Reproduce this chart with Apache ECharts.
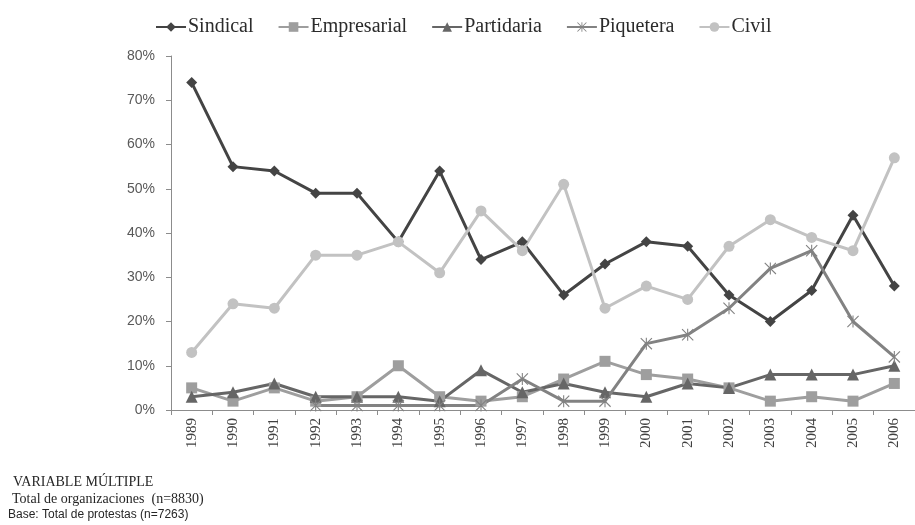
<!DOCTYPE html>
<html>
<head>
<meta charset="utf-8">
<style>
html,body{margin:0;padding:0;background:#fff;}
#chart{width:915px;height:525px;}
</style>
<script src="https://cdn.jsdelivr.net/npm/echarts@6/dist/echarts.min.js"></script>
</head>
<body>
<div id="chart"></div>
<script>
var years = ['1989','1990','1991','1992','1993','1994','1995','1996','1997','1998','1999','2000','2001','2002','2003','2004','2005','2006'];
var sindical    = [74,55,54,49,49,38,54,34,38,26,33,38,37,26,20,27,44,28];
var empresarial = [5,2,5,2,3,10,3,2,3,7,11,8,7,5,2,3,2,6];
var partidaria  = [3,4,6,3,3,3,2,9,4,6,4,3,6,5,8,8,8,10];
var piquetera   = [null,null,null,1,1,1,1,1,7,2,2,15,17,23,32,36,20,12];
var civil       = [13,24,23,35,35,38,31,45,36,51,23,28,25,37,43,39,36,57];
var yTicks = [0,10,20,30,40,50,60,70,80];
var notes = ['VARIABLE MÚLTIPLE','Total de organizaciones  (n=8830)','Base: Total de protestas (n=7263)'];

var asterisk = 'path://M9.1,0 L10.9,0 L10.9,20 L9.1,20 Z M0,1.3 L1.3,0 L20,18.7 L18.7,20 Z M18.7,0 L20,1.3 L1.3,20 L0,18.7 Z';

function mk(name, data, color, symbol, size) {
  return {
    name: name, type: 'line', data: data,
    symbol: symbol, symbolSize: size,
    lineStyle: {color: color, width: 3},
    itemStyle: {color: color},
    connectNulls: false,
    animation: false
  };
}

var chart = echarts.init(document.getElementById('chart'), null, {renderer: 'canvas'});
chart.setOption({
  backgroundColor: '#ffffff',
  animation: false,
  legend: {
    left: 150, top: 12,
    itemWidth: 30, itemHeight: 12, itemGap: 24,
    textStyle: {fontFamily: 'Liberation Serif', fontSize: 20, color: '#2b2b2b', padding: [0,0,0,-3]},
    data: ['Sindical','Empresarial','Partidaria','Piquetera','Civil']
  },
  grid: {left: 171, top: 56, width: 752, height: 354, containLabel: false},
  xAxis: {
    type: 'category', data: years, boundaryGap: true,
    axisLine: {lineStyle: {color: '#8c8c8c', width: 1}},
    axisTick: {show: true, length: 5, alignWithLabel: false, lineStyle: {color: '#8c8c8c'}},
    axisLabel: {rotate: 90, margin: 8, interval: 0, fontFamily: 'Liberation Serif', fontSize: 15, color: '#404040'}
  },
  yAxis: {
    type: 'value', min: 0, max: 80, interval: 10,
    axisLine: {show: true, lineStyle: {color: '#8c8c8c', width: 1}},
    axisTick: {show: true, length: 5, lineStyle: {color: '#8c8c8c'}},
    splitLine: {show: false},
    axisLabel: {margin: 16, fontFamily: 'Liberation Sans', fontSize: 14, color: '#595959',
      formatter: function (v) { return yTicks.indexOf(v) >= 0 ? v + '%' : ''; }}
  },
  graphic: [
    {type: 'text', left: 13, top: 475, style: {text: notes[0], font: '14px "Liberation Serif"', fill: '#262626'}},
    {type: 'text', left: 12, top: 492, style: {text: notes[1], font: '14px "Liberation Serif"', fill: '#262626'}},
    {type: 'text', left: 8, top: 509, style: {text: notes[2], font: '12px "Liberation Sans"', fill: '#262626'}}
  ],
  series: [
    mk('Sindical', sindical, '#444444', 'diamond', 11),
    mk('Empresarial', empresarial, '#9e9e9e', 'rect', 11),
    mk('Partidaria', partidaria, '#666666', 'triangle', 12),
    mk('Piquetera', piquetera, '#828282', asterisk, 12),
    mk('Civil', civil, '#c2c2c2', 'circle', 11)
  ]
});
</script>
</body>
</html>
